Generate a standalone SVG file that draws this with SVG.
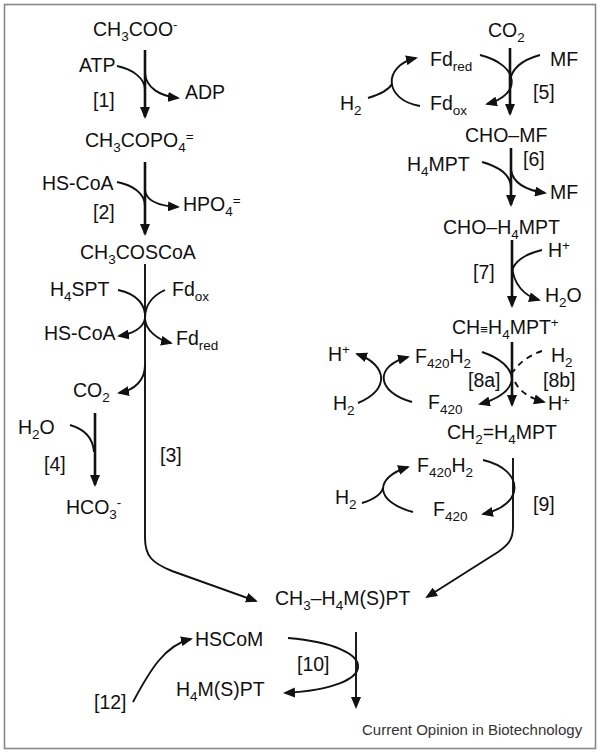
<svg xmlns="http://www.w3.org/2000/svg" width="600" height="754" viewBox="0 0 600 754">
<style>
text{font-family:"Liberation Sans",Arial,sans-serif;font-size:19.5px;fill:#111}
.s{font-size:13.5px}
.cr{font-size:15px;fill:#333}
.main{fill:none;stroke:#111;stroke-width:2.6}
.thin{fill:none;stroke:#111;stroke-width:1.9}
.dash{fill:none;stroke:#111;stroke-width:1.9;stroke-dasharray:6,5}
</style>
<defs>
<marker id="ah" viewBox="0 0 12 10" refX="10" refY="5" markerWidth="12" markerHeight="10" orient="auto" markerUnits="userSpaceOnUse"><path d="M0,0 L12,5 L0,10 Z" fill="#111"/></marker>
</defs>
<rect x="4.5" y="4.5" width="591" height="744" fill="#fff" stroke="#888" stroke-width="1.6"/>

<g id="connectors">
<!-- [1] -->
<path class="main" d="M145,50 V117" marker-end="url(#ah)"/>
<path class="thin" d="M117,66 C132,69 145,78 145,90"/>
<path class="thin" d="M145,73 C146,88 160,96 178,98" marker-end="url(#ah)"/>
<!-- [2] -->
<path class="main" d="M145,162 V234" marker-end="url(#ah)"/>
<path class="thin" d="M117,182 C132,185 145,193 145,206"/>
<path class="thin" d="M145,190 C146,202 160,206 178,207" marker-end="url(#ah)"/>
<!-- [3] -->
<path class="thin" d="M145,264 L145,538 C145,556 152,563 172,571 L256,601" marker-end="url(#ah)"/>
<path class="thin" d="M118,290 C138,294 146,306 145,318 C144,328 132,334 119,336" marker-end="url(#ah)"/>
<path class="thin" d="M165,290 C152,296 145,306 145,318 C145,330 158,340 171,343" marker-end="url(#ah)"/>
<path class="thin" d="M145,365 C145,380 135,390 119,393" marker-end="url(#ah)"/>
<!-- [4] -->
<path class="main" d="M95,413 V485" marker-end="url(#ah)"/>
<path class="thin" d="M70,425 C84,429 93,438 94,452"/>
<!-- [5] -->
<path class="main" d="M510,48 V114" marker-end="url(#ah)"/>
<path class="thin" d="M480,55 C520,65 522,95 487,104" marker-end="url(#ah)"/>
<path class="thin" d="M540,55 C522,60 511,68 510,82"/>
<path class="thin" d="M420,106 C384,100 382,66 416,58" marker-end="url(#ah)"/>
<path class="thin" d="M368,98 C378,95 388,91 392,84"/>
<!-- [6] -->
<path class="main" d="M511,148 V205" marker-end="url(#ah)"/>
<path class="thin" d="M482,162 C500,167 511,175 511,188"/>
<path class="thin" d="M511,170 C513,183 525,190 545,193" marker-end="url(#ah)"/>
<!-- [7] -->
<path class="main" d="M512,240 V306" marker-end="url(#ah)"/>
<path class="thin" d="M542,250 C525,254 513,262 512,272"/>
<path class="thin" d="M512,265 C513,285 525,296 539,300" marker-end="url(#ah)"/>
<!-- [8] -->
<path class="main" d="M512,342 V405" marker-end="url(#ah)"/>
<path class="thin" d="M482,352 C500,358 512,368 512,380 C510,392 495,400 480,404" marker-end="url(#ah)"/>
<path class="dash" d="M542,351 Q522,358 513,372"/>
<path class="dash" d="M515,382 Q522,396 544,402" marker-end="url(#ah)"/>
<path class="thin" d="M358,403 C390,390 388,365 357,354" marker-end="url(#ah)"/>
<path class="thin" d="M412,402 C376,392 374,366 408,357" marker-end="url(#ah)"/>
<!-- [9] -->
<path class="thin" d="M513,458 L513,527 C513,540 508,545 498,552 L427,597" marker-end="url(#ah)"/>
<path class="thin" d="M483,460 C525,470 525,505 483,514" marker-end="url(#ah)"/>
<path class="thin" d="M413,512 C375,502 373,478 408,467" marker-end="url(#ah)"/>
<path class="thin" d="M362,503 C372,500 381,495 383,488"/>
<!-- [10] -->
<path class="thin" d="M356,632 V707" marker-end="url(#ah)"/>
<path class="thin" d="M288,638 C382,646 382,688 285,693" marker-end="url(#ah)"/>
<!-- [12] -->
<path class="thin" d="M133,702 C150,670 165,645 191,639" marker-end="url(#ah)"/>
</g>

<g id="ch3coo"><text x="93" y="36">CH<tspan class="s" dy="5">3</tspan><tspan dy="-5">COO</tspan><tspan class="s" dy="-7">-</tspan></text></g>
<g id="atp"><text x="79" y="72">ATP</text></g>
<g id="r1"><text x="93" y="107">[1]</text></g>
<g id="adp"><text x="185" y="99">ADP</text></g>
<g id="ch3copo4"><text x="85" y="147">CH<tspan class="s" dy="5">3</tspan><tspan dy="-5">COPO</tspan><tspan class="s" dy="5">4</tspan><tspan class="s" dy="-11">=</tspan></text></g>
<g id="hscoa1"><text x="42" y="190">HS-CoA</text></g>
<g id="hpo4"><text x="183" y="211">HPO<tspan class="s" dy="5">4</tspan><tspan class="s" dy="-11">=</tspan></text></g>
<g id="r2"><text x="93" y="219">[2]</text></g>
<g id="ch3coscoa"><text x="80" y="259">CH<tspan class="s" dy="5">3</tspan><tspan dy="-5">COSCoA</tspan></text></g>
<g id="h4spt"><text x="50" y="296">H<tspan class="s" dy="5">4</tspan><tspan dy="-5">SPT</tspan></text></g>
<g id="fdox-l"><text x="172" y="296">Fd<tspan class="s" dy="5">ox</tspan></text></g>
<g id="hscoa2"><text x="44" y="340">HS-CoA</text></g>
<g id="fdred-l"><text x="176" y="345">Fd<tspan class="s" dy="5">red</tspan></text></g>
<g id="co2-l"><text x="73" y="397">CO<tspan class="s" dy="5">2</tspan></text></g>
<g id="h2o-l"><text x="18" y="434">H<tspan class="s" dy="5">2</tspan><tspan dy="-5">O</tspan></text></g>
<g id="r4"><text x="44" y="471">[4]</text></g>
<g id="hco3"><text x="66" y="514">HCO<tspan class="s" dy="5">3</tspan><tspan class="s" dy="-12">-</tspan></text></g>
<g id="r3"><text x="160" y="462">[3]</text></g>

<g id="co2-r"><text x="488" y="37">CO<tspan class="s" dy="5">2</tspan></text></g>
<g id="fdred-r"><text x="430" y="66">Fd<tspan class="s" dy="5">red</tspan></text></g>
<g id="mf1"><text x="550" y="66">MF</text></g>
<g id="h2-5"><text x="340" y="110">H<tspan class="s" dy="5">2</tspan></text></g>
<g id="fdox-r"><text x="430" y="110">Fd<tspan class="s" dy="5">ox</tspan></text></g>
<g id="r5"><text x="533" y="99">[5]</text></g>
<g id="chomf"><text x="465" y="142">CHO–MF</text></g>
<g id="h4mpt"><text x="407" y="171">H<tspan class="s" dy="5">4</tspan><tspan dy="-5">MPT</tspan></text></g>
<g id="r6"><text x="523" y="166">[6]</text></g>
<g id="mf2"><text x="550" y="199">MF</text></g>
<g id="choh4mpt"><text x="443" y="234">CHO–H<tspan class="s" dy="5">4</tspan><tspan dy="-5">MPT</tspan></text></g>
<g id="hplus7"><text x="548" y="257">H<tspan class="s" dy="-7">+</tspan></text></g>
<g id="r7"><text x="473" y="279">[7]</text></g>
<g id="h2o7"><text x="545" y="302">H<tspan class="s" dy="5">2</tspan><tspan dy="-5">O</tspan></text></g>
<g id="chh4mpt"><text x="452" y="334">CH<tspan class="s">≡</tspan>H<tspan class="s" dy="5">4</tspan><tspan dy="-5">MPT</tspan><tspan class="s" dy="-7">+</tspan></text></g>
<g id="hplus8l"><text x="328" y="361">H<tspan class="s" dy="-7">+</tspan></text></g>
<g id="f420h2-8"><text x="415" y="363">F<tspan class="s" dy="5">420</tspan><tspan dy="-5">H</tspan><tspan class="s" dy="5">2</tspan></text></g>
<g id="h2-8r"><text x="551" y="362">H<tspan class="s" dy="5">2</tspan></text></g>
<g id="r8a"><text x="468" y="387">[8a]</text></g>
<g id="r8b"><text x="543" y="387">[8b]</text></g>
<g id="h2-8l"><text x="333" y="410">H<tspan class="s" dy="5">2</tspan></text></g>
<g id="f420-8"><text x="428" y="409">F<tspan class="s" dy="5">420</tspan></text></g>
<g id="hplus8r"><text x="548" y="410">H<tspan class="s" dy="-5">+</tspan></text></g>
<g id="ch2h4mpt"><text x="447" y="439">CH<tspan class="s" dy="5">2</tspan><tspan dy="-5">=H</tspan><tspan class="s" dy="5">4</tspan><tspan dy="-5">MPT</tspan></text></g>
<g id="f420h2-9"><text x="417" y="472">F<tspan class="s" dy="5">420</tspan><tspan dy="-5">H</tspan><tspan class="s" dy="5">2</tspan></text></g>
<g id="h2-9"><text x="335" y="504">H<tspan class="s" dy="5">2</tspan></text></g>
<g id="r9"><text x="533" y="511">[9]</text></g>
<g id="f420-9"><text x="433" y="516">F<tspan class="s" dy="5">420</tspan></text></g>
<g id="ch3h4mspt"><text x="275" y="605">CH<tspan class="s" dy="5">3</tspan><tspan dy="-5">–H</tspan><tspan class="s" dy="5">4</tspan><tspan dy="-5">M(S)PT</tspan></text></g>
<g id="hscom"><text x="195" y="646">HSCoM</text></g>
<g id="r10"><text x="297" y="671">[10]</text></g>
<g id="h4mspt"><text x="176" y="696">H<tspan class="s" dy="5">4</tspan><tspan dy="-5">M(S)PT</tspan></text></g>
<g id="r12"><text x="94" y="709">[12]</text></g>
<g id="credit"><text class="cr" x="362" y="735">Current Opinion in Biotechnology</text></g>
</svg>
